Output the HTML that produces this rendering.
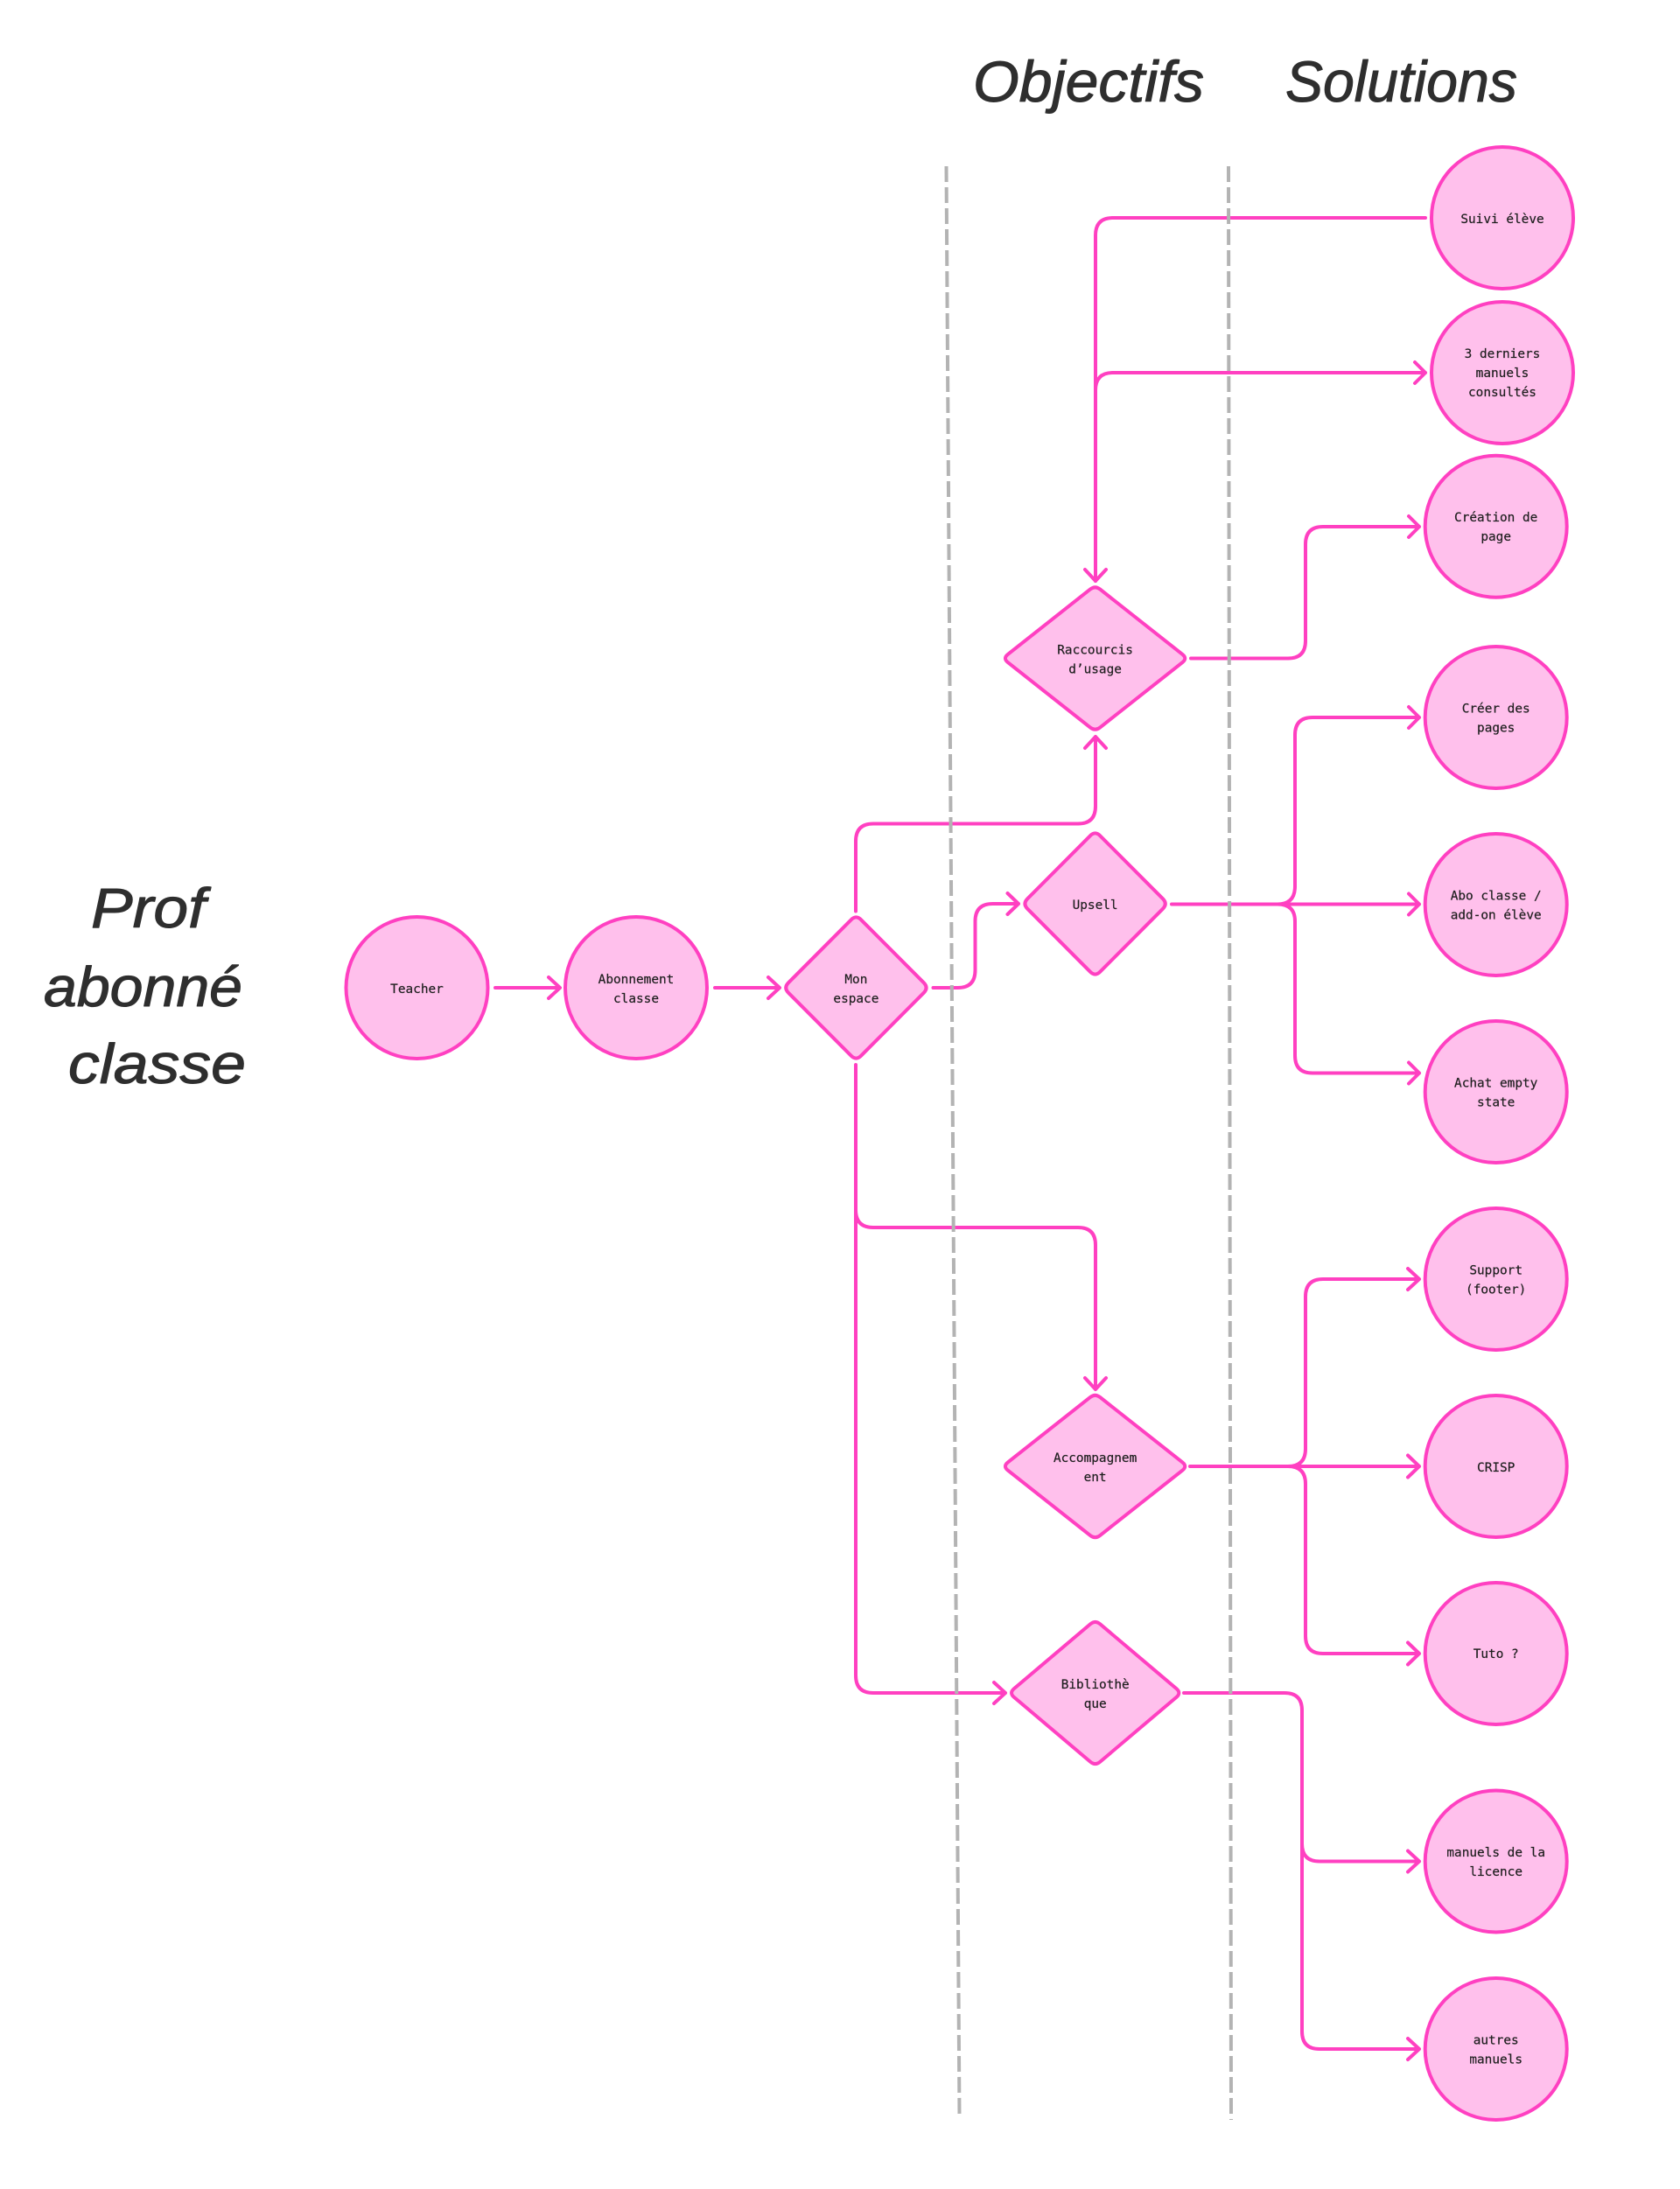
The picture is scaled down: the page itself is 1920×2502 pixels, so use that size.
<!DOCTYPE html>
<html><head><meta charset="utf-8"><title>Prof abonné classe</title>
<style>
html,body{margin:0;padding:0;background:#fff}
svg{display:block}
.c{fill:none;stroke:#ff40c1;stroke-width:4;stroke-linecap:round;stroke-linejoin:round}
.n{fill:#ffc0ec;stroke:#ff40c1;stroke-width:4;stroke-linejoin:round}
.d{fill:none;stroke:#b3b3b3;stroke-width:4;stroke-dasharray:18 6}
.t{font-family:"DejaVu Sans Mono","Liberation Mono",monospace;font-size:14.4px;fill:#1e1e1e;stroke:#1e1e1e;stroke-width:.2;text-anchor:middle}
.h{font-family:"Liberation Sans",sans-serif;font-style:italic;fill:#2e2e2e;stroke:#2e2e2e;stroke-width:1;stroke-linejoin:round}
</style></head><body>
<svg xmlns="http://www.w3.org/2000/svg" width="1920" height="2502" viewBox="0 0 1920 2502">
<rect width="1920" height="2502" fill="#fff"/>

<!-- connectors -->
<g class="c">
<path d="M566 1129H638M627 1117L640 1129L627 1141"/>
<path d="M817 1129H890M878 1117L891 1129L878 1141"/>
<path d="M1629 249H1272Q1252 249 1252 269V664M1240 651L1252 664L1264 651"/>
<path d="M1252 664V446Q1252 426 1272 426H1629M1617 414L1629 426L1617 438"/>
<path d="M1361 752.500H1472Q1492 752.500 1492 732.500V622Q1492 602 1512 602H1622M1610 590L1622 602L1610 614"/>
<path d="M978 1041.500V961.500Q978 941.500 998 941.500H1232Q1252 941.500 1252 921.500V842M1240 855L1252 842L1264 855"/>
<path d="M1066.500 1129H1094.500Q1114.500 1129 1114.500 1109V1053Q1114.500 1033 1134.500 1033H1164M1151.500 1021L1164 1033L1151.500 1045"/>
<path d="M1339 1033.500H1622M1610 1021.500L1622 1033.500L1610 1045.500"/>
<path d="M1460 1033.500Q1480 1033.500 1480 1013V840Q1480 820 1500 820H1622M1610 808L1622 820L1610 832"/>
<path d="M1460 1033.500Q1480 1033.500 1480 1053V1206.500Q1480 1226.500 1500 1226.500H1622M1610 1214.500L1622 1226.500L1610 1238.500"/>
<path d="M978 1217V1383Q978 1403 998 1403H1232Q1252 1403 1252 1423V1588M1240 1575L1252 1588L1264 1575"/>
<path d="M978 1383V1915Q978 1935 998 1935H1149M1136 1923L1149 1935L1136 1947"/>
<path d="M1360 1676H1622M1609 1663.500L1622 1676L1609 1688.500"/>
<path d="M1472 1676Q1492 1676 1492 1656V1482Q1492 1462 1512 1462H1622M1609 1450L1622 1462L1609 1474"/>
<path d="M1472 1676Q1492 1676 1492 1696V1870Q1492 1890 1512 1890H1622M1609 1877.500L1622 1890L1609 1902.500"/>
<path d="M1353 1935H1468Q1488 1935 1488 1955V2322Q1488 2342 1508 2342H1622M1609 2330L1622 2342L1609 2354"/>
<path d="M1488 2107.500Q1488 2127.500 1508 2127.500H1622M1609 2115.500L1622 2127.500L1609 2139.500"/>
</g>

<!-- dashed dividers -->
<line class="d" x1="1081.500" y1="190" x2="1096.500" y2="2420"/>
<line class="d" x1="1404" y1="190" x2="1407" y2="2423"/>

<!-- circles -->
<g class="n">
<circle cx="476.500" cy="1129" r="81"/>
<circle cx="727" cy="1129" r="81"/>
<circle cx="1717" cy="249" r="81"/>
<circle cx="1717" cy="426" r="81"/>
<circle cx="1709.700" cy="601.700" r="81"/>
<circle cx="1709.700" cy="820" r="81"/>
<circle cx="1709.700" cy="1034" r="81"/>
<circle cx="1709.700" cy="1248" r="81"/>
<circle cx="1709.700" cy="1462" r="81"/>
<circle cx="1709.700" cy="1676" r="81"/>
<circle cx="1709.700" cy="1890" r="81"/>
<circle cx="1709.700" cy="2127.500" r="81"/>
<circle cx="1709.700" cy="2342" r="81"/>
</g>

<!-- diamonds -->
<g class="n">
<path transform="translate(978.400 1129)" d="M-5.700,-77.700Q0,-83.500 5.700,-77.700L77.300,-5.800Q83,0 77.300,5.800L5.700,77.700Q0,83.500 -5.700,77.700L-77.300,5.800Q-83,0 -77.300,-5.800Z"/>
<path transform="translate(1251.600 1033)" d="M-5.700,-77.700Q0,-83.500 5.700,-77.700L77.300,-5.800Q83,0 77.300,5.800L5.700,77.700Q0,83.500 -5.700,77.700L-77.300,5.800Q-83,0 -77.300,-5.800Z"/>
<path transform="translate(1251.600 752.500)" d="M-5.700,-78.900Q0,-83.500 5.700,-78.900L99.800,-4.600Q105.500,0 99.800,4.600L5.700,78.900Q0,83.500 -5.700,78.900L-99.800,4.600Q-105.500,0 -99.800,-4.600Z"/>
<path transform="translate(1251.600 1676)" d="M-5.700,-78.900Q0,-83.500 5.700,-78.900L99.800,-4.600Q105.500,0 99.800,4.600L5.700,78.900Q0,83.500 -5.700,78.900L-99.800,4.600Q-105.500,0 -99.800,-4.600Z"/>
<path transform="translate(1251.700 1935)" d="M-5.700,-78.600Q0,-83.500 5.700,-78.600L92.800,-4.900Q98.500,0 92.800,4.900L5.700,78.600Q0,83.500 -5.700,78.600L-92.800,4.900Q-98.500,0 -92.800,-4.900Z"/>
</g>

<!-- labels -->
<g class="t">
<text x="476.500" y="1135">Teacher</text>
<text x="727" y="1124">Abonnement</text><text x="727" y="1146">classe</text>
<text x="978.400" y="1124">Mon</text><text x="978.400" y="1146">espace</text>
<text x="1251.600" y="1039">Upsell</text>
<text x="1251.600" y="747.500">Raccourcis</text><text x="1251.600" y="769.500">d’usage</text>
<text x="1251.600" y="1671">Accompagnem</text><text x="1251.600" y="1693">ent</text>
<text x="1251.700" y="1930">Bibliothè</text><text x="1251.700" y="1952">que</text>
<text x="1717" y="255">Suivi élève</text>
<text x="1717" y="409">3 derniers</text><text x="1717" y="431">manuels</text><text x="1717" y="453">consultés</text>
<text x="1709.700" y="596">Création de</text><text x="1709.700" y="618">page</text>
<text x="1709.700" y="814.500">Créer des</text><text x="1709.700" y="836.500">pages</text>
<text x="1709.700" y="1028.500">Abo classe /</text><text x="1709.700" y="1050.500">add-on élève</text>
<text x="1709.700" y="1242.500">Achat empty</text><text x="1709.700" y="1264.500">state</text>
<text x="1709.700" y="1456.500">Support</text><text x="1709.700" y="1478.500">(footer)</text>
<text x="1709.700" y="1682">CRISP</text>
<text x="1709.700" y="1895">Tuto ?</text>
<text x="1709.700" y="2122">manuels de la</text><text x="1709.700" y="2144">licence</text>
<text x="1709.700" y="2336.500">autres</text><text x="1709.700" y="2358.500">manuels</text>
</g>

<!-- handwritten headings -->
<g class="h">
<text x="1112" y="116" font-size="66" textLength="264" lengthAdjust="spacingAndGlyphs">Objectifs</text>
<text x="1469" y="116" font-size="66" textLength="265" lengthAdjust="spacingAndGlyphs">Solutions</text>
<text x="104" y="1060" font-size="64" textLength="131" lengthAdjust="spacingAndGlyphs">Prof</text>
<text x="50" y="1150" font-size="64" textLength="227" lengthAdjust="spacingAndGlyphs">abonné</text>
<text x="78" y="1238" font-size="64" textLength="203" lengthAdjust="spacingAndGlyphs">classe</text>
</g>
</svg>
</body></html>
